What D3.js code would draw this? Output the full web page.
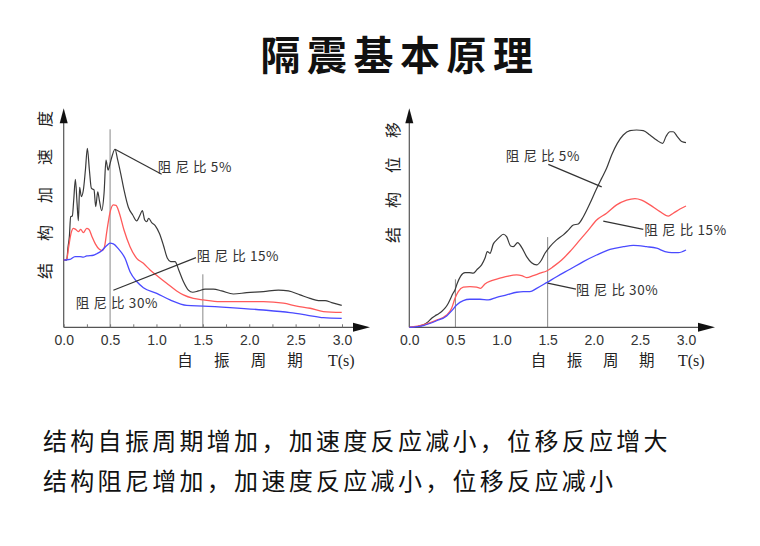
<!DOCTYPE html>
<html><head><meta charset="utf-8">
<script src="https://cdn.jsdelivr.net/npm/d3@7"></script>
<style>body{margin:0;background:#fff}svg{display:block}</style>
</head><body>
<svg id="c" width="760" height="546"></svg>
<script>
// ---------- data ----------
const xTicks = [0, 0.5, 1.0, 1.5, 2.0, 2.5, 3.0];
const minorTicks = d3.range(0, 3.01, 0.25);
const seriesNames = ["阻 尼 比 5%", "阻 尼 比 15%", "阻 尼 比 30%"];
const seriesColors = ["#3a3a3a", "#ff5a5a", "#4a4aff"];

// left chart: structural acceleration (arbitrary units 0..100)
const accel5 = [[0,30.7],[0.032,30.7],[0.047,36.8],[0.061,41.4],[0.075,50.5],[0.093,50.8],[0.108,58.1],[0.126,67.6],[0.144,56.6],[0.158,48.7],[0.172,63.9],[0.190,59.7],[0.212,62.7],[0.234,71.8],[0.255,81.7],[0.277,71.8],[0.298,63.5],[0.327,62.7],[0.345,55.1],[0.367,61.9],[0.384,58.1],[0.410,53.3],[0.435,61.2],[0.456,76.4],[0.478,71.8],[0.499,74.6],[0.525,78.7],[0.553,81.3],[0.582,76.4],[0.614,70.3],[0.650,62.7],[0.697,54.8],[0.744,51.3],[0.787,48.6],[0.823,51.3],[0.848,53.3],[0.873,49.0],[0.895,48.2],[0.916,49.8],[0.949,47.8],[0.988,46.3],[1.031,42.9],[1.074,37.6],[1.118,31.5],[1.153,30.0],[1.200,30.0],[1.240,26.2],[1.290,20.9],[1.344,17.0],[1.391,16.0],[1.452,16.6],[1.524,17.4],[1.613,17.4],[1.703,16.6],[1.829,15.2],[1.973,15.8],[2.152,16.3],[2.314,17.0],[2.422,16.6],[2.548,14.8],[2.655,13.2],[2.745,12.2],[2.817,12.2],[2.889,11.3],[2.997,10.0]];
const accel15 = [[0,30.7],[0.032,31.0],[0.054,36.8],[0.079,42.9],[0.104,45.2],[0.129,44.7],[0.158,43.7],[0.183,44.7],[0.212,43.2],[0.248,45.2],[0.273,44.7],[0.305,41.4],[0.341,38.1],[0.384,35.6],[0.413,35.0],[0.438,36.5],[0.467,44.4],[0.499,52.4],[0.535,55.9],[0.564,55.7],[0.600,52.1],[0.650,44.4],[0.715,36.8],[0.787,31.5],[0.859,29.2],[0.931,26.2],[1.020,23.1],[1.110,20.1],[1.218,16.6],[1.290,14.8],[1.398,13.2],[1.506,12.5],[1.685,11.7],[1.973,11.7],[2.152,11.7],[2.368,11.0],[2.512,9.7],[2.655,8.7],[2.799,7.2],[2.997,6.8]];
const accel30 = [[0,30.7],[0.068,31.0],[0.122,32.3],[0.176,32.3],[0.212,32.0],[0.248,32.6],[0.320,32.9],[0.356,33.6],[0.410,35.0],[0.464,37.3],[0.499,38.4],[0.535,38.1],[0.589,35.9],[0.661,31.5],[0.715,25.4],[0.787,20.9],[0.859,18.1],[1.003,15.5],[1.146,12.5],[1.326,10.0],[1.506,9.7],[1.793,9.0],[2.152,7.9],[2.440,6.7],[2.619,5.6],[2.799,4.4],[2.997,4.1]];

// right chart: structural displacement (arbitrary units 0..100)
const disp5 = [[0,0],[0.080,0.3],[0.152,1.1],[0.206,2.6],[0.242,4.1],[0.278,5.2],[0.314,6.1],[0.351,7.2],[0.387,8.7],[0.423,11.0],[0.448,13.2],[0.470,15.2],[0.495,17.0],[0.520,20.1],[0.557,23.4],[0.604,25.0],[0.651,25.0],[0.694,24.7],[0.737,26.5],[0.784,28.5],[0.820,31.5],[0.846,34.6],[0.875,33.8],[0.911,38.1],[0.947,39.9],[0.983,41.4],[1.019,42.5],[1.055,41.4],[1.099,37.1],[1.128,36.8],[1.175,38.7],[1.218,36.5],[1.272,32.3],[1.326,29.5],[1.381,28.5],[1.428,30.4],[1.471,33.8],[1.525,36.8],[1.597,39.9],[1.670,42.2],[1.724,44.4],[1.778,46.7],[1.832,47.2],[1.887,50.5],[1.959,56.6],[2.024,62.7],[2.085,68.0],[2.139,72.6],[2.194,78.7],[2.255,84.0],[2.320,87.8],[2.392,89.8],[2.464,90.1],[2.537,89.8],[2.609,87.8],[2.681,85.5],[2.747,84.0],[2.783,87.1],[2.826,89.3],[2.862,89.3],[2.906,87.1],[2.953,84.8],[3.000,84.3]];
const disp15 = [[0,0],[0.152,1.1],[0.296,3.3],[0.405,5.6],[0.459,8.7],[0.495,13.2],[0.531,16.3],[0.585,18.3],[0.658,18.6],[0.730,18.3],[0.773,17.8],[0.820,19.8],[0.893,21.3],[0.983,22.4],[1.073,23.4],[1.164,23.9],[1.218,23.6],[1.272,22.7],[1.344,23.6],[1.417,24.7],[1.489,25.7],[1.561,27.7],[1.652,30.7],[1.742,34.6],[1.850,39.9],[1.941,44.4],[2.031,49.0],[2.139,52.1],[2.248,55.9],[2.356,58.1],[2.447,58.8],[2.519,58.1],[2.609,55.9],[2.718,52.8],[2.808,50.8],[2.862,52.1],[2.935,54.0],[3.000,55.4]];
const disp30 = [[0,0],[0.152,0.8],[0.296,3.0],[0.405,5.2],[0.459,7.5],[0.513,10.2],[0.585,12.2],[0.658,12.8],[0.766,12.8],[0.857,12.5],[0.947,13.7],[1.055,14.8],[1.164,16.0],[1.236,16.3],[1.308,16.3],[1.381,17.8],[1.489,20.4],[1.597,23.1],[1.742,26.5],[1.887,30.0],[2.031,33.0],[2.176,35.6],[2.320,36.8],[2.429,37.4],[2.573,36.8],[2.681,36.1],[2.772,34.6],[2.844,34.1],[2.917,34.1],[3.000,35.3]];

const titleText = "隔震基本原理";
const yLabels = ["结构加速度", "结构位移"];
const xLabelChars = ["自", "振", "周", "期"];
const xLabelUnit = "T(s)";
const captions = ["结构自振周期增加，加速度反应减小，位移反应增大", "结构阻尼增加，加速度反应减小，位移反应减小"];

// ---------- layout ----------
const svg = d3.select("#c");
svg.append("rect").attr("width",760).attr("height",546).attr("fill","#fff");
const CJK = "'Noto Sans CJK SC','Noto Sans',sans-serif";
const SANS = "'Liberation Sans',Arial,sans-serif";

svg.append("text").attr("x",400).attr("y",70).attr("text-anchor","middle")
  .attr("font-family",CJK).attr("font-size",40).attr("font-weight","bold")
  .attr("letter-spacing",6.5).attr("fill","#111").text(titleText);

captions.forEach((c,i)=>{
  svg.append("text").attr("x",43).attr("y",450+i*40)
    .attr("font-family",CJK).attr("font-size",24).attr("letter-spacing",3.3)
    .attr("fill","#111").text(c);
});

const y0 = 327.3, yTop = 108.3;

function chart(cfg){
  const x = d3.scaleLinear().domain([0,3]).range([cfg.x0, cfg.x0+cfg.w]);
  const y = d3.scaleLinear().domain([0,100]).range([y0, yTop]);
  const g = svg.append("g");
  const axisColor = "#555";

  // reference vertical lines
  cfg.vlines.forEach(([t,top])=>{
    g.append("line").attr("x1",x(t)).attr("x2",x(t)).attr("y1",y(top)).attr("y2",y(0))
      .attr("stroke","#888").attr("stroke-width",1);
  });

  // axes lines + arrows
  g.append("line").attr("x1",x(0)).attr("x2",x(0)).attr("y1",y0).attr("y2",yTop+12)
    .attr("stroke",axisColor).attr("stroke-width",1.2);
  g.append("path").attr("d",`M${x(0)},${yTop} l-4,15 l8,0 z`).attr("fill","#111");
  const xEnd = cfg.xArrow;
  g.append("line").attr("x1",x(0)).attr("x2",xEnd-12).attr("y1",y0).attr("y2",y0)
    .attr("stroke",axisColor).attr("stroke-width",1.2);
  g.append("path").attr("d",`M${xEnd},${y0} l-17,-4.5 l0,9 z`).attr("fill","#111");

  if(cfg.minor){
    g.append("g").attr("transform",`translate(0,${y0})`)
      .call(d3.axisTop(x).tickValues(minorTicks).tickSize(3).tickFormat(""))
      .call(a=>a.select(".domain").remove())
      .call(a=>a.selectAll("line").attr("stroke","#777"));
  }
  const ax = g.append("g").attr("transform",`translate(0,${y0})`)
    .call(d3.axisBottom(x).tickValues(xTicks).tickSize(0).tickPadding(8).tickFormat(d3.format(".1f")));
  ax.select(".domain").remove();
  ax.selectAll("text").attr("font-family",SANS).attr("font-size",14).attr("fill","#333");

  // curves
  const line = d3.line().x(d=>x(d[0])).y(d=>y(d[1])).curve(d3.curveMonotoneX);
  cfg.series.forEach((s,i)=>{
    g.append("path").attr("d",line(s)).attr("fill","none")
      .attr("stroke",seriesColors[i]).attr("stroke-width",i===0?1.2:1.3);
  });

  // annotations
  cfg.notes.forEach(n=>{
    if(n.l) g.append("line").attr("x1",x(n.l[0])).attr("y1",y(n.l[1])).attr("x2",x(n.l[2])).attr("y2",y(n.l[3]))
      .attr("stroke","#333").attr("stroke-width",1.2);
    g.append("text").attr("x",x(n.t[0])).attr("y",y(n.t[1]))
      .attr("font-family",CJK).attr("font-size",13.5).attr("letter-spacing",0.6)
      .attr("fill","#333").text(seriesNames[n.s]);
  });

  // y label (rotated)
  g.append("text").attr("transform",`translate(${cfg.yl[0]},${cfg.yl[1]}) rotate(-90)`)
    .attr("dominant-baseline","central").attr("font-family",CJK).attr("font-size",16)
    .attr("letter-spacing",cfg.yl[2]).attr("fill","#222").text(cfg.ylabel);

  // x label
  xLabelChars.forEach((ch,i)=>{
    g.append("text").attr("x",cfg.xl[0]+i*cfg.xl[2]).attr("y",366).attr("text-anchor","middle")
      .attr("font-family",CJK).attr("font-size",15.5).attr("fill","#222").text(ch);
  });
  g.append("text").attr("x",cfg.xl[1]).attr("y",366).attr("font-family","'Liberation Serif','DejaVu Serif',serif")
    .attr("font-size",16).attr("fill","#222").text(xLabelUnit);
}

chart({
  x0:63.7, w:278.3, xArrow:370, minor:true,
  series:[accel5, accel15, accel30],
  vlines:[[0.5,90.4],[1.5,24.2]],
  notes:[
    {s:0, l:[0.553,81.3,1.056,69.9], t:[1.013,70.8]},
    {s:1, l:[0.535,16.9,1.426,31.8], t:[1.434,30.1]},
    {s:2, l:null, t:[0.129,8.7]}
  ],
  ylabel:yLabels[0], yl:[43.5,279,22],
  xl:[185,328,36.7]
});
chart({
  x0:409.3, w:276.7, xArrow:715, minor:false,
  series:[disp5, disp15, disp30],
  vlines:[[0.5,21.9],[1.5,41.2]],
  notes:[
    {s:0, l:[1.507,74.4,2.086,64.1], t:[1.045,75.9]},
    {s:1, l:[2.103,48.5,2.537,44.7], t:[2.548,42.1]},
    {s:2, l:[1.5,20.2,1.807,17.4], t:[1.807,14.6]}
  ],
  ylabel:yLabels[1], yl:[391.7,243,19],
  xl:[538.5,678,36.1]
});
</script>
</body></html>
